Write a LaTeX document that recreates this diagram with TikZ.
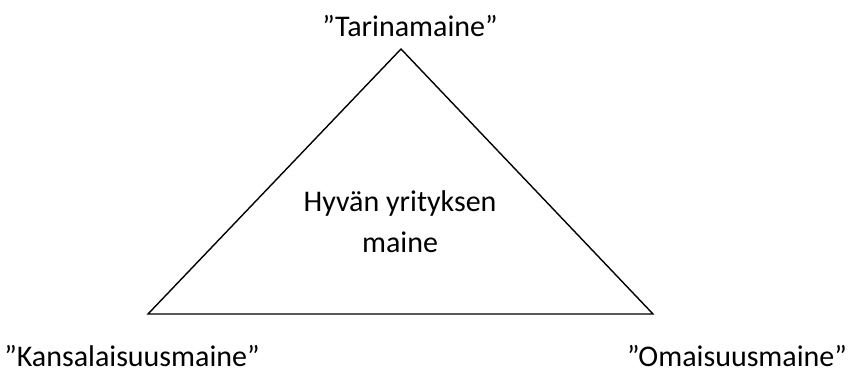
\documentclass[tikz,border=0pt]{standalone}
\usepackage{fontspec}
\setmainfont{Carlito}
\begin{document}
\begin{tikzpicture}[x=1pt,y=-1pt,
  lbl/.style={font=\fontsize{30}{41}\selectfont, inner sep=0pt, anchor=base, align=center},
  edge/.style={line width=1.4pt, line join=miter}]
\useasboundingbox (0,0) rectangle (848,368);
\coordinate (top) at (401,49);
\coordinate (bl) at (148,314);
\coordinate (br) at (653,314);
\draw[edge] (top) -- (bl) -- (br) -- cycle;
\node[lbl] (t) at (410,36) {”Tarinamaine”};
\node[lbl, anchor=north] (c) at (400,190) {Hyvän yrityksen\\maine};
\node[lbl] (k) at (132,366) {”Kansalaisuusmaine”};
\node[lbl] (o) at (737,366) {”Omaisuusmaine”};
\end{tikzpicture}
\end{document}
